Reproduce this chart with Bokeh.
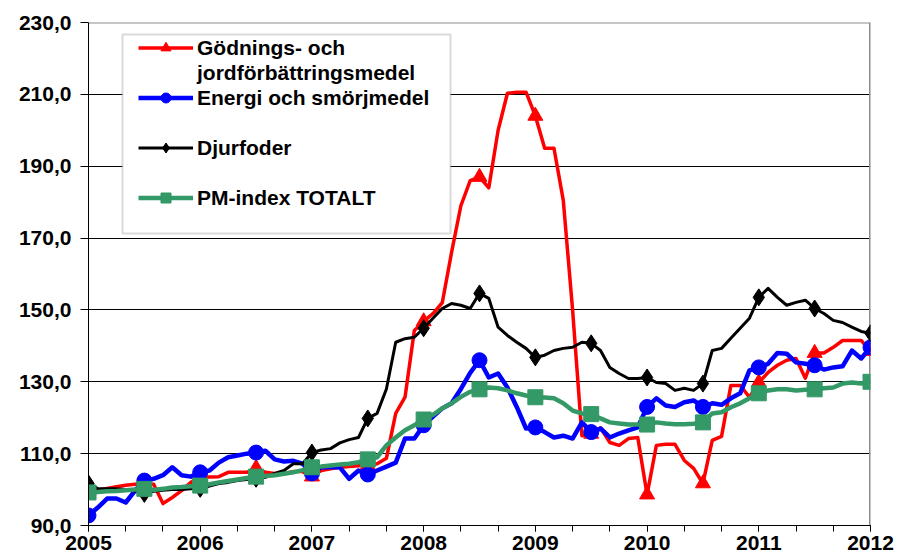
from bokeh.plotting import figure
from bokeh.models import (Range1d, FixedTicker, CustomJSTickFormatter, Legend,
                          LegendItem, BoxAnnotation, Span)
from bokeh.embed import file_html
from bokeh.resources import INLINE

# ---- data -------------------------------------------------------------
first_year = 2005
year_ticks = [2005, 2006, 2007, 2008, 2009, 2010, 2011, 2012]
y_ticks = [90, 110, 130, 150, 170, 190, 210, 230]
marker_every = 6  # months between markers

series_names = ["Gödnings- och jordförbättringsmedel", "Energi och smörjmedel",
                "Djurfoder", "PM-index TOTALT"]

godning = [99.5, 99.8, 100.3, 100.8, 101.2, 101.5, 101.6, 101.5, 96.1, 97.8, 99.7, 102.0,
           103.4, 103.5, 103.6, 104.8, 104.8, 104.8, 106.0, 104.8, 104.5, 104.5, 105.0, 105.0,
           103.6, 105.3, 105.8, 106.2, 106.4, 106.6, 106.8, 107.2, 108.7, 121.2, 125.7, 144.3,
           146.8, 149.0, 152.0, 166.0, 179.0, 186.0, 187.0, 184.0, 200.0, 210.3, 210.6, 210.6,
           204.0, 195.0, 195.0, 180.5, 150.0, 115.0, 115.5, 117.2, 113.1, 112.3, 114.2, 114.5,
           98.6, 112.3, 112.6, 112.6, 108.1, 105.9, 101.7, 113.7, 114.8, 129.0, 129.0, 125.7,
           129.8, 132.6, 134.6, 136.0, 136.5, 131.0, 138.0, 138.0, 139.6, 141.5, 141.5, 141.5,
           138.5]

energi = [92.8, 95.0, 97.5, 97.5, 96.4, 99.7, 102.5, 103.0, 104.0, 106.2, 104.0, 103.6,
          104.8, 105.3, 107.5, 109.0, 109.5, 110.0, 110.3, 110.8, 108.4, 107.8, 108.0, 107.2,
          104.5, 106.2, 106.2, 106.2, 103.0, 105.3, 104.2, 105.3, 106.4, 107.5, 114.2, 114.2,
          117.9, 120.3, 122.6, 124.0, 128.0, 132.5, 136.0, 131.2, 132.3, 128.4, 123.0, 117.0,
          117.3, 116.0, 114.5, 115.0, 114.2, 118.7, 116.0, 117.0, 114.5, 115.6, 116.5, 117.3,
          123.0, 125.4, 123.4, 123.0, 124.3, 124.8, 123.0, 124.0, 123.6, 125.4, 126.8, 133.2,
          134.0, 135.0, 138.0, 137.8, 135.4, 135.0, 134.6, 133.4, 134.0, 134.3, 138.7, 136.5,
          139.6]

djurfoder = [101.7, 100.3, 100.2, 100.2, 100.0, 99.6, 98.8, 99.5, 99.8, 100.0, 100.0, 100.2,
             100.2, 101.0, 101.7, 102.0, 102.5, 102.8, 103.0, 103.4, 104.5, 105.3, 107.2, 107.2,
             110.3, 111.0, 111.4, 113.0, 113.9, 114.5, 119.8, 121.2, 128.0, 141.0, 142.0, 142.4,
             144.9, 147.7, 150.4, 151.8, 151.3, 150.4, 154.6, 153.2, 145.2, 142.9, 141.0, 139.3,
             136.8, 137.4, 138.7, 139.3, 139.6, 141.0, 140.7, 138.7, 134.0, 132.3, 130.9, 130.9,
             131.2, 129.8, 129.5, 127.6, 128.2, 127.6, 129.5, 138.7, 139.3, 142.1, 144.9, 147.7,
             153.5, 156.0, 153.5, 151.3, 152.1, 152.7, 150.4, 149.0, 147.1, 146.5, 145.2, 144.0,
             143.5]

totalt = [99.2, 99.3, 99.5, 99.6, 99.8, 100.0, 100.2, 99.9, 100.2, 100.6, 100.7, 100.9,
          101.1, 101.5, 102.0, 102.4, 102.8, 103.2, 103.6, 103.8, 104.0, 104.4, 104.8, 105.4,
          106.2, 106.4, 106.7, 107.0, 107.2, 107.6, 108.4, 109.0, 112.3, 114.5, 116.5, 117.9,
          119.5, 120.8, 122.6, 124.0, 125.8, 127.2, 127.9, 128.4, 128.2, 127.6, 126.8, 126.2,
          125.7, 125.6, 125.4, 124.0, 122.0, 121.2, 121.0, 119.8, 118.7, 118.4, 118.1, 118.1,
          118.1, 118.7, 118.4, 118.2, 118.2, 118.3, 118.7, 121.2, 121.5, 122.9, 124.0, 125.4,
          126.8, 127.6, 127.9, 127.9, 127.6, 127.8, 127.9, 128.2, 128.4, 129.5, 129.8, 129.5,
          130.0]

# ---- figure -------------------------------------------------------------
FONT = "Liberation Sans"
months = list(range(len(totalt)))
x = [first_year + m / 12 for m in months]
mk = months[::marker_every]
xm = [x[i] for i in mk]

p = figure(width=897, height=559, output_backend="svg", toolbar_location=None,
           x_range=Range1d(year_ticks[0], year_ticks[-1]),
           y_range=Range1d(y_ticks[0], y_ticks[-1]),
           min_border_left=88, min_border_right=27, min_border_top=22,
           min_border_bottom=34)
p.outline_line_color = None
p.background_fill_color = "white"
p.border_fill_color = "white"

# grid
p.xgrid.visible = False
p.ygrid.ticker = FixedTicker(ticks=y_ticks[1:-1])
p.ygrid.grid_line_color = "black"
p.ygrid.grid_line_width = 1

# frame top / right (gray)
p.add_layout(Span(location=y_ticks[-1], dimension="width", line_color="#8c8c8c",
                  line_width=2, level="underlay"))
p.add_layout(Span(location=year_ticks[-1], dimension="height", line_color="#8c8c8c",
                  line_width=3, level="underlay"))

# axes
minor = [first_year + m / 12 for m in range(0, len(x), 4)]
p.xaxis.ticker = FixedTicker(ticks=year_ticks, minor_ticks=minor)
p.xaxis.formatter = CustomJSTickFormatter(code="return tick.toFixed(0)")
p.xaxis.major_tick_in = 0
p.xaxis.major_tick_out = 6
p.xaxis.minor_tick_in = 0
p.xaxis.minor_tick_out = 6
p.xaxis.major_label_standoff = 4
p.yaxis.ticker = FixedTicker(ticks=y_ticks, minor_ticks=[])
p.yaxis.formatter = CustomJSTickFormatter(code="return tick.toFixed(1).replace('.', ',')")
p.yaxis.major_tick_in = 0
p.yaxis.major_tick_out = 8
p.yaxis.major_label_standoff = 9
for ax in (p.xaxis, p.yaxis):
    ax.axis_line_color = "black"
    ax.axis_line_width = 1
    ax.major_tick_line_color = "black"
    ax.minor_tick_line_color = "black"
    ax.major_label_text_font = FONT
    ax.major_label_text_font_style = "bold"
    ax.major_label_text_font_size = "21px"
    ax.major_label_text_color = "black"

# ---- series -------------------------------------------------------------
red, blue, green = "#ff0000", "#0000ff", "#339966"

r_line = p.line(x, godning, line_color=red, line_width=3.5, line_join="round")
r_mark = p.scatter(xm, [godning[i] for i in mk], marker="triangle", size=15,
                   fill_color=red, line_color=red)
b_line = p.line(x, energi, line_color=blue, line_width=4.5, line_join="round")
b_mark = p.scatter(xm, [energi[i] for i in mk], marker="circle", size=15,
                   fill_color=blue, line_color=blue)
k_line = p.line(x, djurfoder, line_color="black", line_width=3, line_join="round")
k_mark = p.scatter(xm, [djurfoder[i] for i in mk], marker="diamond", size=17,
                   fill_color="black", line_color="black")
g_line = p.line(x, totalt, line_color=green, line_width=4.5, line_join="round")
g_mark = p.scatter(xm, [totalt[i] for i in mk], marker="square", size=15,
                   fill_color=green, line_color=green)

# ---- legend -------------------------------------------------------------
frame_h = 503
box = BoxAnnotation(left=34, right=362, top=frame_h - 12, bottom=frame_h - 211,
                    left_units="screen", right_units="screen",
                    top_units="screen", bottom_units="screen",
                    fill_color="white", fill_alpha=1,
                    line_color="#808080", line_width=2)
p.add_layout(box)

dummy = p.line(x=[], y=[], line_alpha=0)
first, second = series_names[0].split(" och ")[0] + " och", series_names[0].split(" och ")[1]
items = [
    LegendItem(label=first, renderers=[r_line, r_mark]),
    LegendItem(label=second, renderers=[dummy]),
    LegendItem(label=series_names[1], renderers=[b_line, b_mark]),
    LegendItem(label=" ", renderers=[dummy]),
    LegendItem(label=series_names[2], renderers=[k_line, k_mark]),
    LegendItem(label="  ", renderers=[dummy]),
    LegendItem(label=series_names[3], renderers=[g_line, g_mark]),
]
legend = Legend(items=items, location=(50, frame_h - 13 - 175), padding=0, margin=0,
                spacing=0, glyph_width=55, glyph_height=25, label_height=25,
                label_standoff=4, border_line_alpha=0, background_fill_alpha=0,
                label_text_font=FONT, label_text_font_style="bold",
                label_text_font_size="21px", label_text_color="black")
p.add_layout(legend)

open("out.html", "w").write(file_html(p, INLINE))
